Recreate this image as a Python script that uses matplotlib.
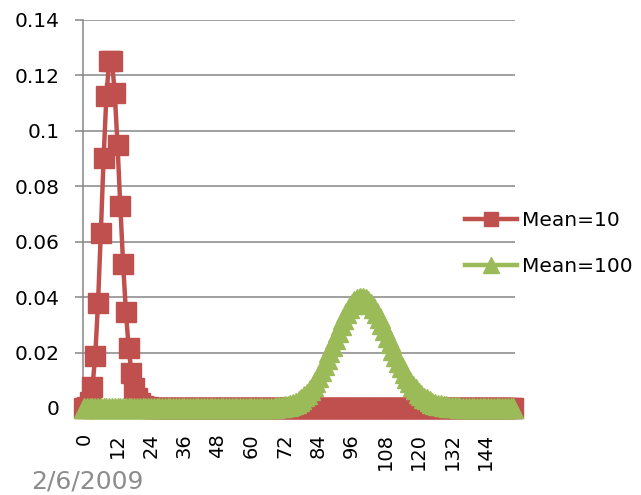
import numpy as np
import matplotlib
matplotlib.use("Agg")
import matplotlib.pyplot as plt
from matplotlib.lines import Line2D

# Poisson probabilities for k = 0 .. 154
mean10 = [
    0.00005, 0.00045, 0.00227, 0.00757, 0.01892, 0.03783, 0.06306, 0.09008, 0.11260, 0.12511,
    0.12511, 0.11374, 0.09478, 0.07291, 0.05208, 0.03472, 0.02170, 0.01276, 0.00709, 0.00373,
    0.00187, 0.00089, 0.00040, 0.00018, 0.00007, 0.00003, 0.00001, 0, 0, 0,
    0, 0, 0, 0, 0, 0, 0, 0, 0, 0,
    0, 0, 0, 0, 0, 0, 0, 0, 0, 0,
    0, 0, 0, 0, 0, 0, 0, 0, 0, 0,
    0, 0, 0, 0, 0, 0, 0, 0, 0, 0,
    0, 0, 0, 0, 0, 0, 0, 0, 0, 0,
    0, 0, 0, 0, 0, 0, 0, 0, 0, 0,
    0, 0, 0, 0, 0, 0, 0, 0, 0, 0,
    0, 0, 0, 0, 0, 0, 0, 0, 0, 0,
    0, 0, 0, 0, 0, 0, 0, 0, 0, 0,
    0, 0, 0, 0, 0, 0, 0, 0, 0, 0,
    0, 0, 0, 0, 0, 0, 0, 0, 0, 0,
    0, 0, 0, 0, 0, 0, 0, 0, 0, 0,
    0, 0, 0, 0, 0,
]

mean100 = [
    0, 0, 0, 0, 0, 0, 0, 0, 0, 0,
    0, 0, 0, 0, 0, 0, 0, 0, 0, 0,
    0, 0, 0, 0, 0, 0, 0, 0, 0, 0,
    0, 0, 0, 0, 0, 0, 0, 0, 0, 0,
    0, 0, 0, 0, 0, 0, 0, 0, 0, 0,
    0, 0, 0, 0, 0, 0, 0, 0, 0, 0,
    0.000005, 0.000007, 0.000012, 0.000019, 0.000029, 0.000045, 0.000068, 0.000102, 0.000150, 0.000217,
    0.000311, 0.000437, 0.000608, 0.000832, 0.001125, 0.001500, 0.001973, 0.002562, 0.003285, 0.004158,
    0.005198, 0.006417, 0.007826, 0.009429, 0.011224, 0.013205, 0.015355, 0.017649, 0.020056, 0.022535,
    0.025039, 0.027515, 0.029908, 0.032159, 0.034212, 0.036012, 0.037513, 0.038673, 0.039463, 0.039861,
    0.039861, 0.039466, 0.038692, 0.037565, 0.036120, 0.034400, 0.032453, 0.030330, 0.028083, 0.025764,
    0.023422, 0.021101, 0.018840, 0.016673, 0.014625, 0.012718, 0.010964, 0.009371, 0.007941, 0.006673,
    0.005561, 0.004596, 0.003767, 0.003063, 0.002470, 0.001976, 0.001568, 0.001235, 0.000965, 0.000748,
    0.000575, 0.000439, 0.000333, 0.000250, 0.000187, 0.000138, 0.000102, 0.000074, 0.000054, 0.000039,
    0.000028, 0.000020, 0.000014, 0.000010, 0.000007, 0.000005, 0.000003, 0.000002, 0.000001, 0.000001,
    0, 0, 0, 0, 0,
]

series_names = ["Mean=10", "Mean=100"]
x_tick_labels = ["0", "12", "24", "36", "48", "60", "72", "84", "96", "108", "120", "132", "144"]
y_ticks = [0, 0.02, 0.04, 0.06, 0.08, 0.10, 0.12, 0.14]
y_tick_labels = ["0", "0.02", "0.04", "0.06", "0.08", "0.1", "0.12", "0.14"]
date_text = "2/6/2009"

RED = "#C0504D"
GREEN = "#9BBB59"
GRID = "#868686"

plt.rcParams["font.family"] = ["DejaVu Sans"]

fig = plt.figure(figsize=(6.41, 4.95), dpi=100)
ax = fig.add_axes([0.129, 0.1758, 0.674, 0.7838])

k = np.arange(len(mean10))
ax.plot(k, mean10, color=RED, lw=3.2, marker="s", ms=14, mec=RED, mfc=RED,
        clip_on=False, zorder=3)
ax.plot(k, mean100, color=GREEN, lw=3.2, marker="^", ms=14, mec=GREEN, mfc=GREEN,
        clip_on=False, zorder=4)

ax.set_xlim(-0.5, len(mean10) - 0.5)
ax.set_ylim(0, 0.14)

tick_pos = [int(t) for t in x_tick_labels]
ax.set_xticks(tick_pos)
ax.set_xticklabels(x_tick_labels, rotation=90, fontsize=14)
ax.tick_params(axis="x", length=0, pad=18)

ax.set_yticks(y_ticks)
ax.set_yticklabels(y_tick_labels, fontsize=14.5)
ax.tick_params(axis="y", length=5.8, width=1.1, color=GRID, pad=11)

ax.grid(axis="y", color=GRID, lw=1.1)
ax.set_axisbelow(True)
for side in ("top", "right", "bottom"):
    ax.spines[side].set_visible(False)
ax.spines["left"].set_color(GRID)
ax.spines["left"].set_linewidth(1.1)

handles = [
    Line2D([], [], color=RED, lw=3.2, marker="s", ms=10, mec=RED, mfc=RED),
    Line2D([], [], color=GREEN, lw=3.2, marker="^", ms=11, mec=GREEN, mfc=GREEN),
]
leg = fig.legend(handles, series_names, loc="center left",
                 bbox_to_anchor=(0.7254, 0.5075), frameon=False, fontsize=14.5,
                 handlelength=2.6, handletextpad=0.25, labelspacing=1.35,
                 borderpad=0, borderaxespad=0)

fig.text(0.048, 0.0141, date_text, color="#8C8C8C", fontsize=18, ha="left", va="baseline")

fig.savefig("out.png", dpi=100)
